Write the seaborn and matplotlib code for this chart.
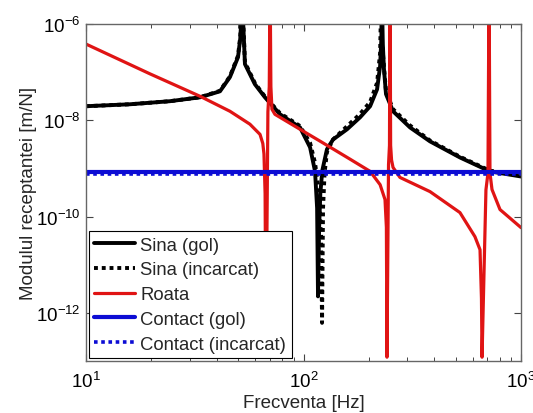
import numpy as np
import pandas as pd
import matplotlib
matplotlib.use('Agg')
import matplotlib.pyplot as plt
import seaborn as sns
from matplotlib.ticker import LogLocator, FixedLocator, NullLocator, LogFormatterSciNotation

# ---------------- data ----------------
f_sina_gol = [10, 15.9, 24.3, 33.4, 41.3, 45.9, 50.0, 51.2, 52.3, 53.3, 53.8, 59.8, 66.5, 78.0,
              96.4, 107.2, 113.0, 115.5, 116.6, 118.0, 119.5, 122.0, 128.2, 136.8, 158.5,
              181.9, 202.4, 217.9, 225.0, 228.0, 229.6, 231.5, 234.4, 239.5, 258.0, 308.9,
              381.6, 524.0, 719.0, 1000.0]
v_sina_gol = [1.96e-8, 2.15e-8, 2.49e-8, 3.0e-8, 4.0e-8, 7.9e-8, 2.05e-7, 5e-7, 3e-6, 4e-7,
              1.47e-7, 5.6e-8, 3.0e-8, 1.33e-8,
              7.1e-9, 2.74e-9, 8.7e-10, 1.5e-10, 2.2e-12, 6e-11, 3e-10, 9e-10, 2.5e-9, 4.0e-9, 6.5e-9,
              1.15e-8, 1.96e-8, 4.4e-8, 1.33e-7, 5e-7, 3e-6, 4e-7, 1.15e-7, 3.5e-8, 1.54e-8, 7.1e-9,
              3.65e-9, 1.69e-9, 8.7e-10, 6.8e-10]

f_sina_inc = [10, 15.9, 24.3, 33.4, 41.3, 45.9, 50.0, 51.2, 52.3, 53.3, 53.8, 59.8, 66.5, 78.0,
              96.4, 107.2, 113.0, 118.0, 120.5, 121.7, 123.0, 125.0, 128.2, 136.8, 158.5,
              181.9, 202.4, 217.9, 225.0, 227.5, 230.0, 234.4, 239.5, 258.0, 308.9,
              381.6, 524.0, 719.0, 1000.0]
v_sina_inc = [1.96e-8, 2.15e-8, 2.49e-8, 3.0e-8, 4.1e-8, 8.2e-8, 2.2e-7, 5.5e-7, 3e-6, 4.5e-7,
              1.6e-7, 5.9e-8, 3.1e-8, 1.4e-8,
              7.6e-9, 3.4e-9, 1.3e-9, 3e-10, 3e-11, 6.2e-13, 1.5e-10, 8e-10, 2.2e-9, 4.0e-9, 7.5e-9,
              1.35e-8, 2.4e-8, 6e-8, 2.5e-7, 3e-6, 4e-7, 1.3e-7, 4e-8, 1.7e-8, 7.8e-9,
              3.8e-9, 1.75e-9, 9e-10, 7e-10]

f_roata = [10, 19.7, 33.4, 45.9, 56.7, 63.1, 65.0, 65.8, 66.6, 67.2, 68.6, 69.6, 70.2, 70.8,
           71.6, 73.9, 96.4, 119.0, 163.6, 202.4, 225.0, 237.0, 240.5, 242.0, 246.0, 248.5,
           250.0, 251.5, 254.0, 258.0, 277.7, 381.6, 524.0, 614.0, 648.0, 658.0, 662.0,
           690.0, 705.0, 713.0, 720.0, 735.6, 800.6, 1000.0]
v_roata = [3.83e-7, 9.2e-8, 3.16e-8, 1.54e-8, 8.3e-9, 5.1e-9, 3.3e-9, 2.0e-9, 3e-10, 1.2e-13,
           1.5e-8, 5e-8, 1e-5, 5e-8,
           1.7e-8, 1.33e-8, 6.5e-9, 3.7e-9, 1.56e-9, 8.7e-10, 4.6e-10, 2.26e-10, 6e-11, 1.2e-13,
           1.2e-9, 3e-9, 1e-5, 3e-9, 1.5e-9, 1.05e-9, 6.5e-10, 3.3e-10, 1.21e-10, 3.83e-11,
           2.05e-11, 2e-12, 1.2e-13, 3.6e-10, 8e-10, 1e-5, 8e-10, 3.65e-10, 1.4e-10, 5.9e-11]

f_contact = [10, 1000]
v_contact_gol = [8.5e-10, 8.5e-10]
v_contact_inc = [7.7e-10, 7.7e-10]

labels = ['Sina (gol)', 'Sina (incarcat)', 'Roata', 'Contact (gol)', 'Contact (incarcat)']

# ---------------- style ----------------
sns.set_style('ticks')
plt.rcParams['font.family'] = ['Liberation Sans', 'DejaVu Sans']
plt.rcParams['mathtext.fontset'] = 'custom'
plt.rcParams['mathtext.rm'] = 'Liberation Sans'
plt.rcParams['mathtext.it'] = 'Liberation Sans:italic'
plt.rcParams['mathtext.default'] = 'regular'

fig = plt.figure(figsize=(5.33, 4.14), dpi=100)
ax = fig.add_axes([86 / 533, 52 / 414, 435 / 533, 337 / 414])
ax.set_xscale('log')
ax.set_yscale('log')

RED = '#e01414'
BLUE = '#0c0cd4'

series = [
    (f_sina_gol, v_sina_gol, labels[0], 'black', '-', 2.8),
    (f_sina_inc, v_sina_inc, labels[1], 'black', (0, (1, 1)), 2.8),
    (f_roata, v_roata, labels[2], RED, '-', 2.3),
    (f_contact, v_contact_gol, labels[3], BLUE, '-', 3.0),
    (f_contact, v_contact_inc, labels[4], BLUE, (0, (1, 1)), 2.6),
]
for fx, vy, lab, col, ls, lw in series:
    df = pd.DataFrame({'f': fx, 'v': vy})
    sns.lineplot(data=df, x='f', y='v', ax=ax, color=col, linestyle=ls, linewidth=lw,
                 label=lab, estimator=None, sort=False)

ax.set_xlim(10, 1000)
ax.set_ylim(1e-13, 1e-6)

ax.xaxis.set_major_locator(LogLocator(base=10, numticks=10))
ax.xaxis.set_minor_locator(LogLocator(base=10, subs=np.arange(2, 10), numticks=30))
ax.xaxis.set_major_formatter(LogFormatterSciNotation())
ax.yaxis.set_major_locator(FixedLocator([1e-12, 1e-10, 1e-8, 1e-6]))
ax.yaxis.set_major_formatter(LogFormatterSciNotation())
ax.yaxis.set_minor_locator(NullLocator())

ax.tick_params(which='both', direction='in', top=True, right=True, colors='#444444',
               labelcolor='black', labelsize=13.5)
ax.tick_params(which='major', length=5, width=0.8)
ax.tick_params(which='minor', length=3, width=0.7)
ax.tick_params(axis='x', which='major', pad=7)
ax.tick_params(axis='y', which='major', pad=4)
for sp in ax.spines.values():
    sp.set_color('#666666')
    sp.set_linewidth(1.0)

ax.set_xlabel('Frecventa [Hz]', fontsize=13.5, labelpad=2)
ax.set_ylabel('Modulul receptantei [m/N]', fontsize=13.5)
ax.yaxis.set_label_coords(-0.112, 0.5)

leg = ax.legend(loc='lower left', bbox_to_anchor=(0.0, 0.0), borderaxespad=0.15,
                fontsize=13.3, frameon=True, fancybox=False, edgecolor='black',
                framealpha=1, handlelength=2.2, handletextpad=0.3, labelspacing=0.42,
                borderpad=0.3)
leg.get_frame().set_linewidth(0.8)

fig.savefig('out.png', dpi=100)
